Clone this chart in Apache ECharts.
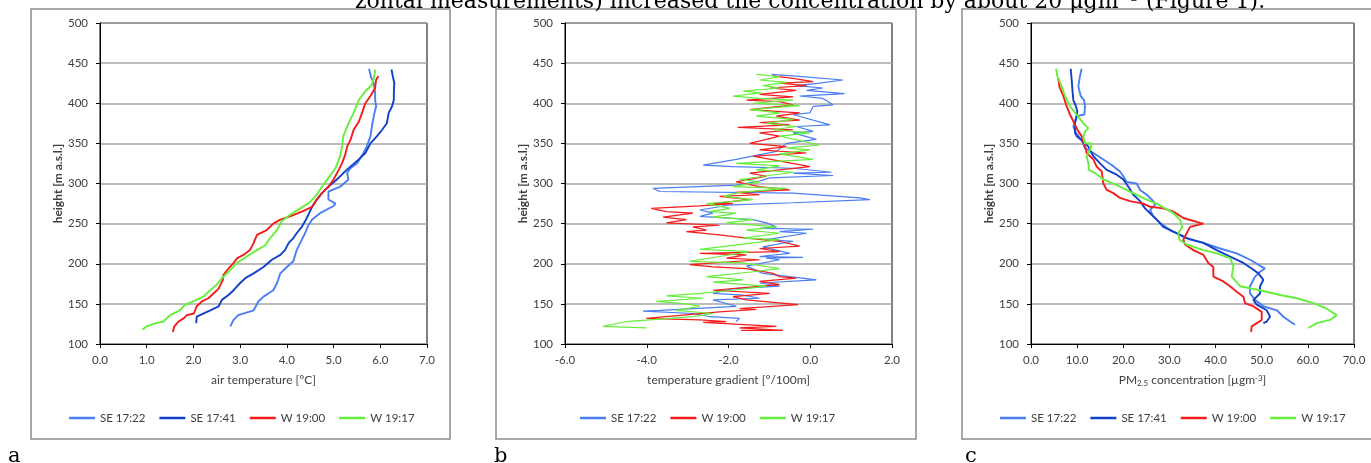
<!DOCTYPE html>
<html>
<head>
<meta charset="utf-8">
<script src="https://cdn.jsdelivr.net/npm/echarts@6/dist/echarts.min.js"></script>
<style>
html,body{margin:0;padding:0;background:#fff;}
#main{width:1371px;height:463px;}
</style>
</head>
<body>
<div id="main"></div>
<script>
// series names + colours
var names = ['SE 17:22', 'SE 17:41', 'W 19:00', 'W 19:17'];
var colors = ['#4a7ef2', '#1240c8', '#f41c1c', '#66ee3c'];

// panel a: [air temperature, height]
var tempSE1722 = [[2.79,122],[2.86,130],[2.96,136],[3.29,142],[3.39,153],[3.5,159],[3.71,167],[3.79,176],[3.86,188],[4.0,196],[4.14,203],[4.21,217],[4.32,230],[4.39,238],[4.46,248],[4.54,255],[4.71,263],[5.0,272],[5.04,275],[4.89,280],[4.89,290],[5.14,296],[5.32,305],[5.29,313],[5.36,319],[5.5,325],[5.64,338],[5.71,346],[5.79,359],[5.82,371],[5.86,384],[5.91,396],[5.89,404],[5.89,413],[5.86,425],[5.8,433],[5.76,443]];
var tempSE1741 = [[2.06,126],[2.07,134],[2.14,136],[2.36,142],[2.54,147],[2.61,155],[2.75,161],[2.86,167],[3.0,176],[3.11,182],[3.29,188],[3.5,196],[3.68,205],[3.86,211],[3.96,217],[4.04,226],[4.14,232],[4.21,238],[4.32,246],[4.39,253],[4.46,261],[4.54,271],[4.64,280],[4.75,288],[4.93,298],[5.07,305],[5.21,313],[5.36,321],[5.54,330],[5.68,338],[5.79,350],[5.93,359],[6.04,367],[6.14,375],[6.18,388],[6.25,396],[6.29,404],[6.29,413],[6.3,425],[6.27,433],[6.24,442]];
var tempW1900 = [[1.56,115],[1.59,122],[1.68,128],[1.79,132],[1.86,136],[2.01,138],[2.07,147],[2.18,153],[2.32,157],[2.43,163],[2.54,169],[2.63,180],[2.64,186],[2.75,194],[2.86,201],[2.94,207],[3.07,211],[3.21,217],[3.29,226],[3.36,236],[3.57,242],[3.71,250],[3.86,255],[4.07,259],[4.32,265],[4.54,271],[4.64,280],[4.75,288],[4.89,296],[5.0,305],[5.11,317],[5.18,325],[5.25,336],[5.29,346],[5.36,354],[5.43,367],[5.54,377],[5.61,388],[5.68,400],[5.79,409],[5.89,419],[5.91,429],[5.96,434]];
var tempW1917 = [[0.91,118],[1.0,122],[1.14,125],[1.36,128],[1.5,136],[1.71,142],[1.82,149],[2.0,153],[2.21,159],[2.36,167],[2.5,174],[2.61,182],[2.79,192],[2.93,201],[3.14,209],[3.36,217],[3.54,223],[3.64,232],[3.79,242],[3.89,253],[4.07,261],[4.29,269],[4.5,277],[4.64,286],[4.75,296],[4.89,307],[5.04,319],[5.14,334],[5.18,346],[5.21,359],[5.32,375],[5.43,388],[5.54,404],[5.68,415],[5.82,423],[5.86,431],[5.89,440],[5.87,442]];

// panel b: [temperature gradient, height]
var gradSE1722 = [[-0.95,436],[-0.42,434],[0.80,429],[0.23,425],[-0.34,422],[0.31,419],[-0.09,416],[0.84,412],[-0.26,409],[0.31,406],[0.56,398],[0.07,396],[-0.01,388],[-0.42,386],[0.48,373],[-0.34,371],[0.07,365],[-0.42,363],[0.15,355],[-0.58,350],[-0.83,340],[-1.81,330],[-2.62,323],[-1.89,321],[-0.42,319],[0.52,314],[-0.42,313],[0.56,310],[-0.99,307],[-1.24,303],[-1.81,298],[-3.85,294],[-3.68,290],[-0.42,288],[1.21,282],[1.46,280],[-0.42,276],[-2.05,273],[-2.22,271],[-2.70,267],[-2.38,263],[-2.70,259],[-1.40,255],[-1.07,251],[-0.83,246],[-1.24,244],[0.07,243],[-0.75,240],[-0.09,238],[-1.07,230],[-0.42,228],[-1.16,221],[-0.50,213],[-1.24,209],[-0.18,208],[-1.07,207],[-0.75,205],[-1.56,197],[-1.16,188],[0.15,180],[-1.24,176],[-0.75,172],[-1.89,169],[-2.38,163],[-1.64,161],[-1.24,157],[-2.38,155],[-1.81,147],[-3.68,142],[-4.09,141],[-2.87,138],[-2.46,134],[-1.73,132],[-1.81,128]];
var gradW1900 = [[-0.91,434],[-0.42,431],[0.07,427],[-0.75,425],[-0.09,422],[-0.99,419],[-0.34,416],[-1.24,411],[-0.42,408],[-1.56,404],[-0.75,402],[-0.42,398],[-1.48,392],[-0.26,388],[-0.83,384],[-0.26,379],[-1.24,376],[-0.50,373],[-1.77,370],[-0.42,367],[-1.24,363],[-0.75,359],[-1.48,350],[-0.58,346],[-1.24,342],[-0.09,338],[-1.40,334],[-0.01,321],[-0.75,317],[-1.48,313],[-1.07,309],[-1.81,302],[-1.24,296],[-0.50,292],[-1.81,289],[-1.24,286],[-2.22,284],[-1.48,280],[-2.38,275],[-1.89,275],[-2.70,272],[-3.89,269],[-3.52,265],[-2.87,263],[-3.60,258],[-3.03,255],[-3.52,251],[-2.22,248],[-2.87,246],[-2.54,242],[-3.03,240],[-2.22,236],[-1.56,232],[-0.75,228],[-0.26,222],[-1.24,219],[-0.75,215],[-2.70,213],[-1.56,211],[-2.05,207],[-1.24,205],[-2.95,199],[-2.38,196],[-1.56,194],[-0.91,188],[-0.75,184],[-0.34,182],[-1.24,178],[-0.75,174],[-2.38,167],[-0.99,163],[-1.89,159],[-1.56,155],[-0.30,149],[-1.73,144],[-1.32,143],[-2.22,140],[-4.01,132],[-2.70,130],[-2.05,128],[-2.62,127],[-0.83,122],[-1.73,120],[-0.67,117],[-1.69,117]];
var gradW1917 = [[-1.32,436],[-0.75,433],[-1.24,429],[-0.58,426],[-1.16,422],[-0.75,419],[-1.64,415],[-1.20,413],[-1.89,409],[-1.24,406],[-0.42,404],[-1.40,400],[-0.26,397],[-1.48,392],[-0.75,388],[-1.32,384],[-0.42,380],[-1.07,375],[-0.34,371],[-0.91,367],[-0.01,363],[-0.75,359],[0.23,348],[-0.58,344],[-0.01,342],[-0.75,337],[0.07,330],[-1.81,325],[-0.75,322],[-1.32,317],[-0.42,314],[-1.73,305],[-1.24,302],[-1.89,296],[-0.58,294],[-1.73,289],[-2.13,284],[-1.40,280],[-2.54,275],[-1.97,269],[-2.46,265],[-1.81,263],[-2.38,258],[-1.40,255],[-2.05,251],[-0.83,246],[-1.56,242],[-0.75,238],[-1.64,232],[-0.75,230],[-1.89,223],[-2.70,218],[-1.48,215],[-2.22,209],[-2.95,203],[-1.64,201],[-0.75,194],[-1.40,190],[-2.54,184],[-1.64,180],[-2.38,177],[-1.07,172],[-1.89,167],[-2.70,163],[-3.52,160],[-2.62,157],[-3.77,153],[-3.03,150],[-2.70,147],[-3.28,142],[-2.38,138],[-2.87,134],[-4.50,128],[-5.07,122],[-4.01,120]];

// panel c: [PM2.5, height]
var pmSE1722 = [[10.98,443],[10.62,434],[10.26,421],[10.77,409],[11.49,404],[11.71,396],[11.56,386],[9.90,384],[9.18,371],[9.75,363],[10.98,354],[11.71,344],[13.51,338],[15.68,330],[17.49,323],[19.29,315],[20.01,309],[20.74,302],[22.90,300],[23.63,292],[25.07,286],[26.52,278],[26.88,273],[25.80,267],[26.52,259],[27.96,251],[30.13,242],[32.30,236],[34.47,230],[37.36,226],[40.97,219],[44.58,213],[47.47,205],[50.72,194],[49.64,190],[48.55,184],[47.47,172],[47.47,163],[48.55,155],[50.36,147],[53.25,142],[54.70,134],[56.14,128],[57.23,124]];
var pmSE1741 = [[8.60,443],[8.82,429],[9.03,413],[9.18,404],[9.75,396],[10.04,390],[9.90,384],[9.54,375],[9.54,363],[9.90,359],[10.98,354],[12.43,346],[13.51,334],[14.96,325],[16.40,317],[18.57,311],[20.01,305],[21.10,296],[22.18,286],[23.63,278],[24.71,269],[25.80,263],[27.24,255],[28.68,246],[30.85,240],[33.74,232],[37.36,226],[40.25,217],[43.14,209],[46.03,201],[47.83,194],[49.28,188],[50.36,180],[49.64,172],[49.64,163],[48.19,155],[48.92,149],[51.08,142],[51.81,134],[51.08,128],[50.36,126]];
var pmW1900 = [[5.92,431],[6.14,421],[7.01,409],[7.73,396],[8.45,386],[9.54,373],[10.26,365],[10.98,359],[11.71,346],[12.07,338],[13.51,330],[14.23,321],[15.32,315],[15.68,300],[16.40,292],[17.85,288],[19.29,282],[21.46,278],[24.35,275],[25.80,271],[28.68,269],[30.85,265],[33.02,257],[36.63,251],[37.36,250],[34.47,246],[33.74,238],[33.02,230],[33.38,224],[35.19,217],[37.36,211],[38.44,201],[39.52,196],[39.52,184],[41.69,178],[43.14,172],[44.58,165],[46.03,159],[46.39,151],[48.19,147],[50.0,140],[50.0,130],[47.83,122],[47.69,115]];
var pmW1917 = [[5.42,443],[5.71,434],[6.65,421],[7.37,409],[8.45,396],[9.90,386],[11.34,375],[12.43,369],[11.71,365],[11.34,357],[11.71,350],[13.15,350],[12.79,342],[12.07,334],[12.50,323],[12.50,317],[13.87,313],[15.68,305],[18.57,298],[21.46,290],[25.07,280],[27.24,275],[29.05,269],[30.85,263],[32.30,255],[32.80,246],[31.94,238],[32.15,230],[33.74,224],[37.36,217],[40.25,213],[43.14,207],[43.86,197],[43.50,184],[45.30,172],[49.64,167],[53.97,161],[57.59,157],[61.20,151],[64.09,144],[66.26,136],[64.81,130],[61.92,126],[60.12,120]];

var txt = '#404040';
var fnt = 'Lato, "Open Sans", sans-serif';

var myChart = echarts.init(document.getElementById('main'));

function xAx(idx, min, max, step, name) {
    return {
        type: 'value', gridIndex: idx, min: min, max: max, interval: step,
        name: name, nameLocation: 'middle', nameGap: 30,
        nameTextStyle: {
            color: txt, fontSize: 12, fontFamily: fnt,
            rich: {
                n: {color: txt, fontSize: 12, fontFamily: fnt},
                sub: {color: txt, fontSize: 8, fontFamily: fnt, padding: [5, 0, 0, 0]},
                sup: {color: txt, fontSize: 8, fontFamily: fnt, padding: [0, 0, 5, 0]}
            }
        },
        axisLine: {show: true, onZero: false, lineStyle: {color: '#000', width: 1}},
        axisTick: {show: true, inside: false, length: 4, lineStyle: {color: '#000'}},
        axisLabel: {color: txt, fontSize: 11.5, fontFamily: fnt, margin: 10,
            formatter: function (v) { return v.toFixed(1); }},
        splitLine: {show: false}
    };
}
function yAx(idx) {
    return {
        type: 'value', gridIndex: idx, min: 100, max: 500, interval: 50,
        name: 'height [m a.s.l.]', nameLocation: 'middle', nameGap: 36,
        nameTextStyle: {color: txt, fontSize: 12, fontWeight: 'bold', fontFamily: fnt},
        axisLine: {show: true, onZero: false, lineStyle: {color: '#000', width: 1}},
        axisTick: {show: true, length: 4, lineStyle: {color: '#000'}},
        axisLabel: {color: txt, fontSize: 11.5, fontFamily: fnt, margin: 12},
        splitLine: {show: true, lineStyle: {color: '#a6a6a6', width: 1.5}}
    };
}
function line(name, data, idx, color, w) {
    return {
        name: name, type: 'line', xAxisIndex: idx, yAxisIndex: idx,
        data: data, symbol: 'none', showSymbol: false,
        lineStyle: {color: color, width: w}, itemStyle: {color: color}
    };
}
function leg(data, left) {
    return {
        data: data, left: left, top: 412, padding: 0,
        icon: 'rect', itemWidth: 26, itemHeight: 2.5, itemGap: 14,
        textStyle: {color: txt, fontSize: 11.5, fontFamily: fnt}
    };
}

var option = {
    animation: false,
    backgroundColor: '#fff',
    grid: [
        {left: 100, top: 23, width: 327, height: 321, show: true, borderColor: '#000', borderWidth: 1},
        {left: 565, top: 23, width: 327, height: 321, show: true, borderColor: '#000', borderWidth: 1},
        {left: 1031, top: 23, width: 323, height: 321, show: true, borderColor: '#000', borderWidth: 1}
    ],
    xAxis: [
        xAx(0, 0, 7, 1, 'air temperature [°C]'),
        xAx(1, -6, 2, 2, 'temperature gradient [°/100m]'),
        xAx(2, 0, 70, 10, '{n|PM}{sub|2.5}{n| concentration [µgm}{sup|-3}{n|]}')
    ],
    yAxis: [yAx(0), yAx(1), yAx(2)],
    legend: [
        leg(names, 69),
        leg([names[0], names[2], names[3]], 580),
        leg(names, 1000)
    ],
    series: [
        line(names[0], tempSE1722, 0, colors[0], 1.9),
        line(names[1], tempSE1741, 0, colors[1], 1.9),
        line(names[2], tempW1900, 0, colors[2], 1.9),
        line(names[3], tempW1917, 0, colors[3], 1.9),
        line(names[0], gradSE1722, 1, colors[0], 1.2),
        line(names[2], gradW1900, 1, colors[2], 1.2),
        line(names[3], gradW1917, 1, colors[3], 1.2),
        line(names[0], pmSE1722, 2, colors[0], 1.9),
        line(names[1], pmSE1741, 2, colors[1], 1.9),
        line(names[2], pmW1900, 2, colors[2], 1.9),
        line(names[3], pmW1917, 2, colors[3], 1.9)
    ],
    graphic: [
        {type: 'rect', shape: {x: 31, y: 9, width: 419, height: 430}, style: {fill: 'none', stroke: '#8c8c8c', lineWidth: 1.5}, silent: true},
        {type: 'rect', shape: {x: 496, y: 9, width: 420, height: 430}, style: {fill: 'none', stroke: '#8c8c8c', lineWidth: 1.5}, silent: true},
        {type: 'rect', shape: {x: 962, y: 9, width: 430, height: 430}, style: {fill: 'none', stroke: '#8c8c8c', lineWidth: 1.5}, silent: true},
        {type: 'text', left: 8, top: 446, style: {text: 'a', font: '21px "DejaVu Serif"', fill: '#000'}, silent: true},
        {type: 'text', left: 494, top: 446, style: {text: 'b', font: '21px "DejaVu Serif"', fill: '#000'}, silent: true},
        {type: 'text', left: 965, top: 446, style: {text: 'c', font: '21px "DejaVu Serif"', fill: '#000'}, silent: true},
        {type: 'text', left: 355, top: -9, style: {text: 'zontal measurements) increased the concentration by about 20 μgm⁻³ (Figure 1).', font: '22px "DejaVu Serif"', fill: '#000'}, silent: true}
    ]
};

myChart.setOption(option);
</script>
</body>
</html>
